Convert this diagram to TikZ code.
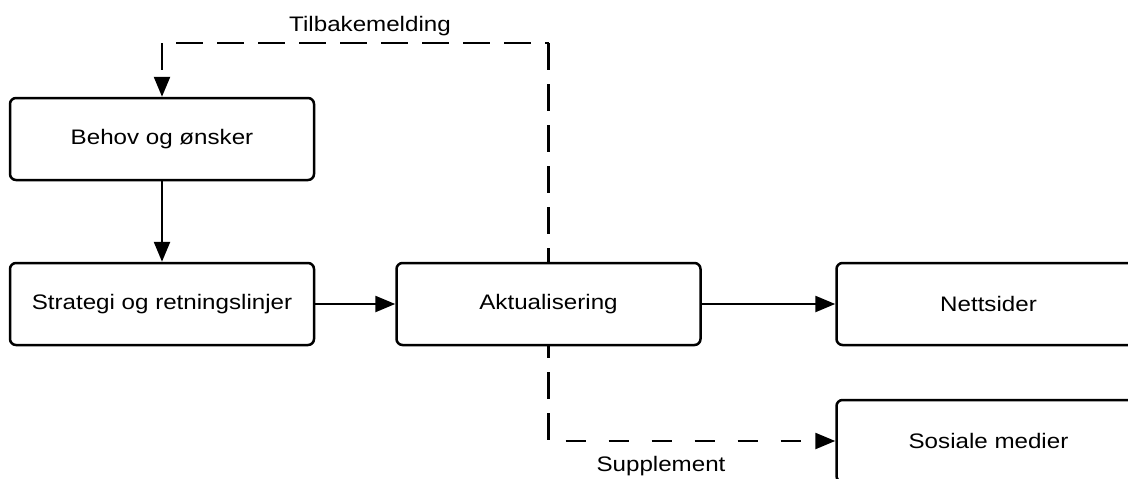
\documentclass[tikz,border=0pt]{standalone}
\usepackage{fontspec}
\setmainfont[FakeStretch=1.15]{Liberation Sans}
\usetikzlibrary{arrows.meta}
\tikzset{
  box/.style={draw, line width=2.5pt, rounded corners=6pt, minimum width=304pt, minimum height=82pt, inner sep=0pt, font=\fontsize{21}{25}\selectfont},
  line/.style={line width=2.5pt},
  tip/.style={-{Triangle[length=20pt,width=16pt]}},
  link/.style={line, tip},
  longdash/.style={line, dash pattern=on 27pt off 14pt},
  shortdash/.style={line, dash pattern=on 20pt off 23pt},
  lbl/.style={font=\fontsize{21}{25}\selectfont, inner sep=0pt}
}
\begin{document}
\begin{tikzpicture}[x=1pt,y=-1pt]
\useasboundingbox (0,0) rectangle (1128,479);
\clip (0,0) rectangle (1128,479);
\node[box] (behov) at (162,139) {Behov og ønsker};
\node[box] (strat) at (162,304) {Strategi og retningslinjer};
\node[box] (akt) at (548.5,304) {Aktualisering};
\node[box] (nett) at (988.5,304) {Nettsider};
\node[box] (sos) at (988.5,441) {Sosiale medier};
\coordinate (tr) at (548.5,43);
\coordinate (tl) at (162,43);
\coordinate (br) at (548.5,441);
\draw[link] (behov) -- (strat);
\draw[link] (strat) -- (akt);
\draw[link] (akt) -- (nett);
% Tilbakemelding
\draw[longdash] (tr) -- (akt.north);
\draw[longdash, dash phase=27pt] (tl) -- (tr);
\draw[longdash, tip] (tl) -- (behov.north);
% Supplement
\draw[longdash, dash phase=15pt] (akt.south) -- (br);
\draw[shortdash, dash phase=26pt, tip] (br) -- (sos.west);
\node[lbl] (tlab) at (370,26) {Tilbakemelding};
\node[lbl] (slab) at (661,466) {Supplement};
\end{tikzpicture}
\end{document}
